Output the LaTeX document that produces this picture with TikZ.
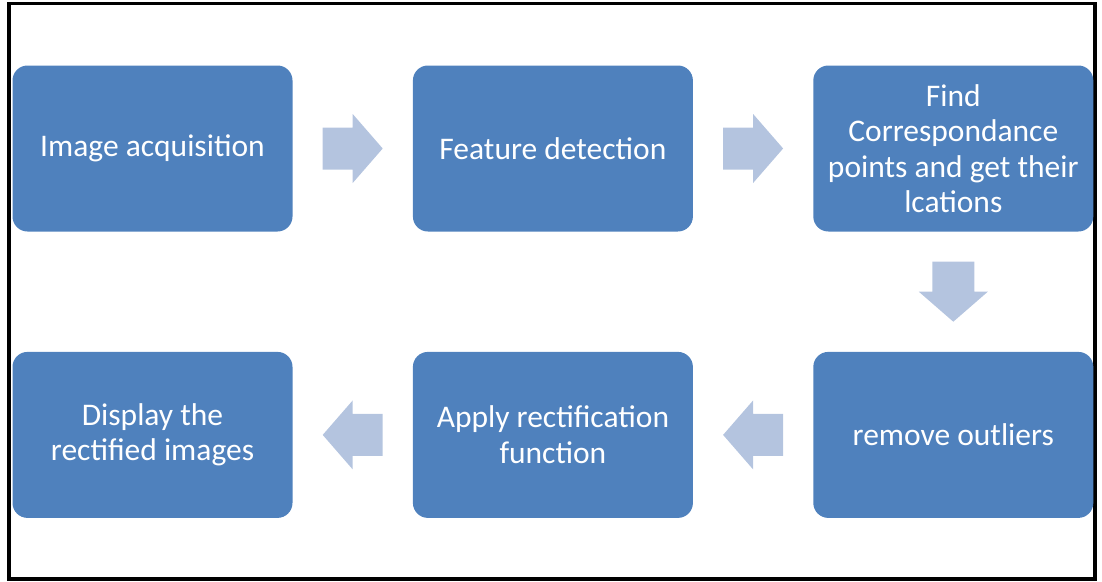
\documentclass[tikz,border=0pt]{standalone}
\usepackage{fontspec}
\setmainfont{Carlito}
\usetikzlibrary{positioning}
\usetikzlibrary{calc}

\definecolor{boxblue}{HTML}{4F81BD}
\definecolor{arrowblue}{HTML}{B4C4DF}

\begin{document}
\begin{tikzpicture}[x=1pt,y=-1pt,
	stepbox/.style={rounded corners=15pt, fill=boxblue, text=white, minimum width=280pt, minimum height=166pt, align=center, inner sep=0pt, font=\fontsize{31.5}{35.5}\selectfont},
	fatarrow/.pic={\fill[arrowblue] (-30,-21) -- (0,-21) -- (0,-34.5) -- (30,0) -- (0,34.5) -- (0,21) -- (-30,21) -- cycle;}]
	\useasboundingbox (0,0) rectangle (1102,581);
	% frame round the whole flow
	\draw[line width=3.5pt] (9,3.5) rectangle (1095,579);

	% the six steps
	\node[stepbox] (b1) at (152.5,148.5) {Image acquisition};
	\node[stepbox, right=120pt of b1] (b2) {Feature detection};
	\node[stepbox, right=120pt of b2] (b3) {Find\\Correspondance\\points and get their\\lcations};
	\node[stepbox, below=120pt of b3] (b4) {remove outliers};
	\node[stepbox, left=120pt of b4] (b5) {Apply rectification\\function};
	\node[stepbox, left=120pt of b5] (b6) {Display the\\rectified images};

	% block arrows between the steps
	\pic at ($(b1.east)!0.5!(b2.west)$) {fatarrow};
	\pic at ($(b2.east)!0.5!(b3.west)$) {fatarrow};
	\pic[rotate=-90] at ($(b3.south)!0.5!(b4.north)$) {fatarrow};
	\pic[rotate=180] at ($(b4.west)!0.5!(b5.east)$) {fatarrow};
	\pic[rotate=180] at ($(b5.west)!0.5!(b6.east)$) {fatarrow};
\end{tikzpicture}
\end{document}
